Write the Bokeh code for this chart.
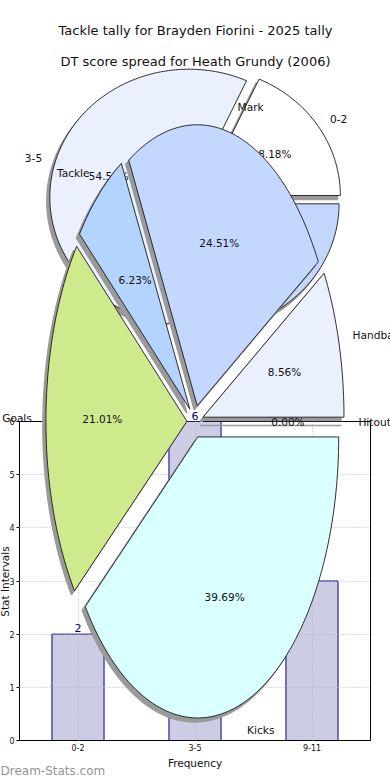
import math
import numpy as np
from bokeh.plotting import figure
from bokeh.models import Range1d, ColumnDataSource, FixedTicker
from bokeh.core.properties import value
from bokeh.embed import file_html
from bokeh.resources import INLINE

# ---------------- data ----------------
bar_categories = ["0-2", "3-5", "9-11"]
bar_counts = [2, 6, 3]
bar_y_ticks = [0, 1, 2, 3, 4, 5, 6]

dt_categories = ["0-2", "3-5", "9-11"]
dt_counts = [2, 6, 3]

tackle_stats = ["Hitout", "Handball", "Mark", "Tackle", "Goals", "Kicks"]
tackle_percent = [0.00, 8.56, 24.51, 6.23, 21.01, 39.69]

chart_title = "Tackle tally for Brayden Fiorini - 2025 tally"
dt_title = "DT score spread for Heath Grundy (2006)"
x_axis_title = "Frequency"
y_axis_title = "Stat Intervals"
watermark = "Dream-Stats.com"

# ---------------- styles / layout ----------------
FONT = "DejaVu Sans"
VFONT = value(FONT)
W, H = 390, 780
FR_L, FR_R, FR_T, FR_B = 19, 370, 421, 740   # bar-chart plot area (page pixels)

slice_cycle = ["#FFFFFF", "#EAF0FE", "#C4D8FF", "#B3D4FF", "#CFE98D", "#D9FFFF"]
SHADOW = "#9a9a9a"
SH_DX, SH_DY = -3, 4
TXT = "#111111"

bar_x = [i + 0.5 for i in range(len(bar_categories))]

p = figure(width=W, height=H,
           x_range=Range1d(0, len(bar_categories)),
           y_range=Range1d(0, 6),
           output_backend="svg", toolbar_location=None,
           min_border_left=FR_L, min_border_right=W - FR_R,
           min_border_top=FR_T, min_border_bottom=H - FR_B)
# page-pixel coordinate system for the pies and free texts
p.extra_x_ranges = {"px": Range1d(FR_L, FR_R)}
p.extra_y_ranges = {"px": Range1d(FR_B, FR_T)}

p.background_fill_color = "white"
p.border_fill_color = "white"
p.outline_line_color = "black"
p.outline_line_width = 1

# axes
p.yaxis.ticker = FixedTicker(ticks=bar_y_ticks)
p.yaxis.major_label_text_font_size = "8px"
p.yaxis.major_label_text_font = FONT
p.yaxis.major_label_text_color = TXT
p.yaxis.major_label_standoff = 2
p.yaxis.major_tick_out = 3
p.yaxis.major_tick_in = 0
p.yaxis.minor_tick_line_color = None
p.yaxis.axis_line_color = "black"
p.xaxis.ticker = FixedTicker(ticks=bar_x)
p.xaxis.major_label_overrides = {x: c for x, c in zip(bar_x, bar_categories)}
p.xaxis.major_label_text_font_size = "8px"
p.xaxis.major_label_text_font = FONT
p.xaxis.major_label_text_color = TXT
p.xaxis.major_label_standoff = 3
p.xaxis.major_tick_out = 0
p.xaxis.major_tick_in = 0
p.xaxis.minor_tick_line_color = None
p.xaxis.axis_line_color = "black"
p.xaxis.axis_label = x_axis_title
p.xaxis.axis_label_text_font = FONT
p.xaxis.axis_label_text_font_style = "normal"
p.xaxis.axis_label_text_font_size = "10.5px"
p.xaxis.axis_label_standoff = 3
p.xaxis.axis_label_text_color = TXT

for g in (p.xgrid, p.ygrid):
    g.grid_line_color = "#b8b8b8"
    g.grid_line_dash = "1 2"
    g.grid_line_width = 1
    g.level = "guide"

# bars
bar_src = ColumnDataSource(dict(x=bar_x, count=bar_counts,
                                label=[str(c) for c in bar_counts]))
p.vbar(x="x", top="count", width=0.445, source=bar_src,
       fill_color="#CCCCE4", line_color="#000080", line_width=1)
p.text(x="x", y="count", text="label", source=bar_src, level="annotation",
       text_align="center", text_baseline="bottom", y_offset=-2,
       text_color="#000080", text_font=VFONT, text_font_size="11px")

PX = dict(x_range_name="px", y_range_name="px", level="annotation")


def px_text(xs, ys, texts, size="11px", align="center", color=TXT, **kw):
    p.text(x=list(xs), y=list(ys), text=list(texts), text_align=align,
           text_baseline="middle", text_color=color, text_font=VFONT,
           text_font_size=size, **kw, **PX)


def pie_geometry(values, cx, cy, rx, ry, explode, n=240):
    total = float(sum(values))
    out = []
    a0 = 0.0
    for v in values:
        a1 = a0 + 2 * math.pi * v / total
        m = (a0 + a1) / 2
        vx = cx + explode * rx * math.cos(m)
        vy = cy - explode * ry * math.sin(m)
        k = max(2, int(n * (a1 - a0) / (2 * math.pi)) + 2)
        t = np.linspace(a0, a1, k)
        xs = [vx] + list(vx + rx * np.cos(t))
        ys = [vy] + list(vy - ry * np.sin(t))
        out.append(dict(xs=xs, ys=ys, vx=vx, vy=vy, m=m, frac=v / total))
        a0 = a1
    return out


def draw_pie(values, names, cx, cy, rx, ry, explode):
    geo = pie_geometry(values, cx, cy, rx, ry, explode)
    for g in geo:
        p.patch([x + SH_DX for x in g["xs"]], [y + SH_DY for y in g["ys"]],
                fill_color=SHADOW, line_color=SHADOW, line_width=1.5, **PX)
    for i, g in enumerate(geo):
        p.patch(g["xs"], g["ys"], fill_color=slice_cycle[i % len(slice_cycle)],
                line_color="#1a1a1a", line_width=0.9, **PX)
    pct, left, right = ([], [], []), ([], [], []), ([], [], [])
    for g, name in zip(geo, names):
        c, s = math.cos(g["m"]), math.sin(g["m"])
        pct[0].append(g["vx"] + 0.6 * rx * c)
        pct[1].append(g["vy"] - 0.6 * ry * s)
        pct[2].append("%.2f%%" % (100 * g["frac"]))
        d = left if c >= 0 else right
        d[0].append(g["vx"] + 1.1 * rx * c)
        d[1].append(g["vy"] - 1.1 * ry * s)
        d[2].append(name)
    px_text(*pct, size="10.5px")
    if left[0]:
        px_text(*left, size="10.6px", align="left")
    if right[0]:
        px_text(*right, size="10.6px", align="right")


draw_pie(dt_counts, dt_categories, 195, 198.5, 139, 128, 0.05)
draw_pie(tackle_percent, tackle_stats, 194.6, 421, 141, 281, 0.058)

px_text([195, 195], [30, 61], [chart_title, dt_title], size="13px")
px_text([4], [581], [y_axis_title], size="10.5px", angle=math.pi / 2)
px_text([0], [770], [watermark], size="12px", align="left", color="#959595")

open("out.html", "w").write(file_html(p, INLINE))
